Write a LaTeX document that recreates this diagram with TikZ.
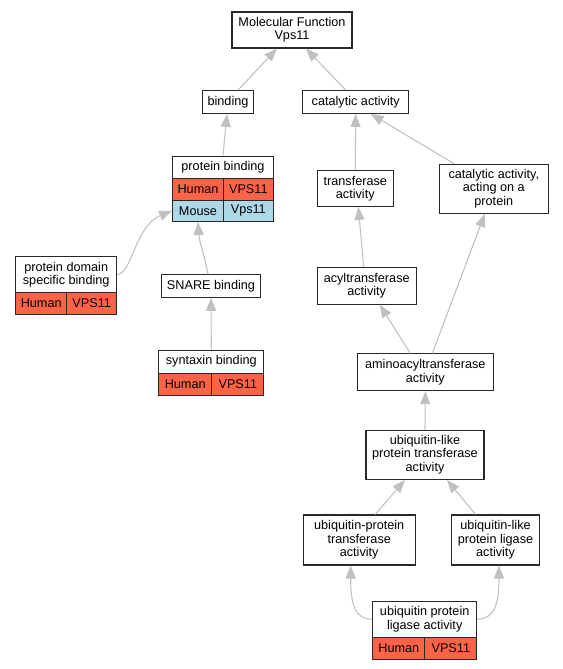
\documentclass[tikz,border=0pt]{standalone}
\usepackage{fontspec}
\setmainfont{Liberation Sans}
\usetikzlibrary{arrows.meta,calc}
\definecolor{redcell}{RGB}{255,99,71}
\definecolor{bluecell}{RGB}{173,216,230}
\definecolor{edgegray}{RGB}{192,192,192}
\definecolor{boxline}{RGB}{40,40,40}
\tikzset{
  gobox/.style={draw=boxline, line width=0.8pt, fill=white, inner sep=0pt, align=center,
    font=\fontsize{9.5}{10}\selectfont},
  hum/.style={gobox, fill=redcell},
  mou/.style={gobox, fill=bluecell},
  sz/.style 2 args={minimum width=#1*0.75pt, minimum height=#2*0.75pt},
  isa/.style={draw=edgegray, line width=0.8pt, -{Triangle[length=9.75pt,width=7.5pt]}},
}
\begin{document}
\begin{tikzpicture}[x=0.75pt,y=-0.75pt]
\useasboundingbox (0,0) rectangle (563,669);
% plain terms
\node[gobox, sz={120}{36}] (mf) at (292,30) {Molecular Function\\Vps11};
\node[gobox, sz={51}{22.7}] (bind) at (228,102) {binding};
\node[gobox, sz={106}{22.7}] (cat) at (355.7,102) {catalytic activity};
\node[gobox, sz={76}{35.6}] (trans) at (355.3,188.5) {transferase\\activity};
\node[gobox, sz={109}{49.3}] (catp) at (493.8,188.7) {catalytic activity,\\acting on a\\protein};
\node[gobox, sz={99.4}{22.6}] (snare) at (211,286) {SNARE binding};
\node[gobox, sz={98.7}{36.7}] (acyl) at (366.7,285.7) {acyltransferase\\activity};
\node[gobox, sz={136}{36.7}] (amino) at (425.3,372.3) {aminoacyltransferase\\activity};
\node[gobox, sz={118}{49.3}] (ultr) at (425,454.7) {ubiquitin-like\\protein transferase\\activity};
\node[gobox, sz={111.7}{50}] (uptr) at (359.2,540) {ubiquitin-protein\\transferase\\activity};
\node[gobox, sz={87.6}{50}] (ullig) at (495.5,540) {ubiquitin-like\\protein ligase\\activity};
% protein binding table
\node[gobox, sz={100.6}{22.3}] (pbh) at (223,167.2) {protein binding};
\node[hum, sz={50.6}{21.7}] (pbhh) at (198,189.2) {Human};
\node[hum, sz={50}{21.7}] (pbhv) at (248.3,189.2) {VPS11};
\node[mou, sz={50.6}{21.3}] (pbmm) at (198,210.7) {Mouse};
\node[mou, sz={50}{21.3}] (pbmv) at (248.3,210.7) {Vps11};
% protein domain specific binding table
\node[gobox, sz={101}{35.6}] (pdh) at (66.2,274.5) {protein domain\\specific binding};
\node[hum, sz={51}{21.7}] (pdhh) at (41.2,303.2) {Human};
\node[hum, sz={50}{21.7}] (pdhv) at (91.7,303.2) {VPS11};
% syntaxin binding table
\node[gobox, sz={105.3}{23.3}] (synh) at (211.3,361.7) {syntaxin binding};
\node[hum, sz={53}{21.7}] (synhh) at (185.2,384.2) {Human};
\node[hum, sz={52.3}{21.7}] (synhv) at (237.8,384.2) {VPS11};
% ubiquitin protein ligase table
\node[gobox, sz={104}{36.3}] (uplh) at (424.7,619.2) {ubiquitin protein\\ligase activity};
\node[hum, sz={52.3}{21.7}] (uplhh) at (398.8,648.2) {Human};
\node[hum, sz={51.7}{21.7}] (uplhv) at (450.8,648.2) {VPS11};
% edges
\draw[isa] ($(bind.north)+(10,0)$) -- ($(mf.south)+(-15,0)$);
\draw[isa] ($(cat.north)+(-10,0)$) -- ($(mf.south)+(14,0)$);
\draw[isa] (pbh.north) -- ($(bind.south)+(-1,0)$);
\draw[isa] (pdh.east) .. controls (132,274) and (135,226) .. (pbmm.west);
\draw[isa] ($(snare.north)+(-3,0)$) .. controls (205,258) and (199,240) .. (pbmm.south);
\draw[isa] (synh.north) -- (snare.south);
\draw[isa] (trans.north) -- (cat.south);
\draw[isa] ($(catp.north)+(-40,0)$) -- ($(cat.south)+(15,0)$);
\draw[isa] ($(acyl.north)+(-3,0)$) -- ($(trans.south)+(3,0)$);
\draw[isa] ($(amino.north)+(-15,0)$) -- ($(acyl.south)+(13,0)$);
\draw[isa] ($(amino.north)+(7,0)$) -- ($(catp.south)+(-9,0)$);
\draw[isa] (ultr.north) -- (amino.south);
\draw[isa] ($(uptr.north)+(16,0)$) -- ($(ultr.south)+(-20,0)$);
\draw[isa] ($(ullig.north)+(-20,0)$) -- ($(ultr.south)+(22,0)$);
\draw[isa] (uplh.west) .. controls (355,619) and (350.7,605) .. ($(uptr.south)+(-8.5,0)$);
\draw[isa] (uplh.east) .. controls (494,619) and (499,605) .. ($(ullig.south)+(3.5,0)$);
\end{tikzpicture}
\end{document}
